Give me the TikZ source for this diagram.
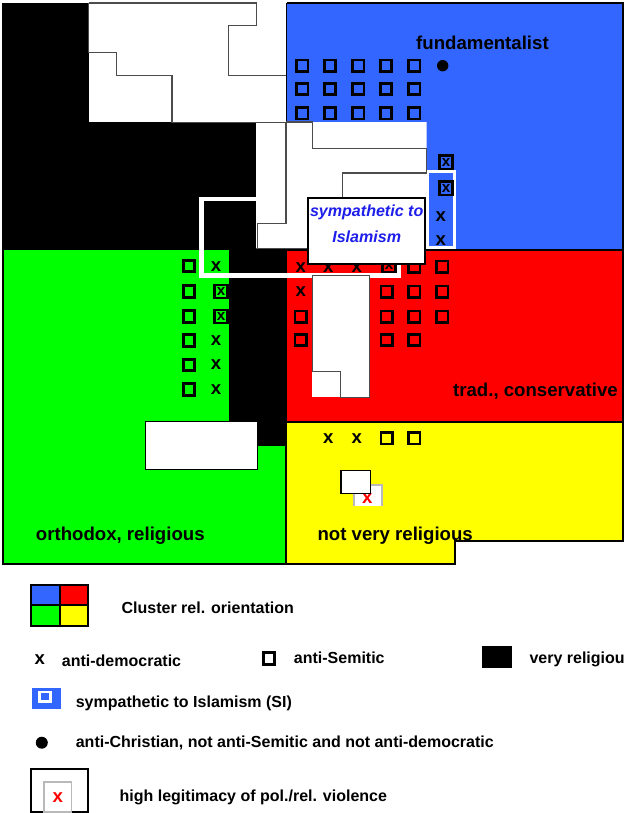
\documentclass[tikz,border=0pt]{standalone}
\usepackage{fontspec}
\setmainfont{Liberation Sans}
\usetikzlibrary{calc}

\definecolor{clblue}{RGB}{51,102,255}
\definecolor{clred}{RGB}{255,0,0}
\definecolor{clgreen}{RGB}{0,255,0}
\definecolor{clyellow}{RGB}{255,255,0}
\definecolor{sitext}{RGB}{30,30,235}

\begin{document}
\begin{tikzpicture}[x=0.03cm,y=-0.03cm,font=\fontsize{15.9}{18}\selectfont\bfseries,
  lab/.style={inner sep=0pt,anchor=base west},
  leg/.style={lab,font=\fontsize{13.66}{16}\selectfont\bfseries},
  sitxt/.style={inner sep=0pt,anchor=base,text=sitext,font=\fontsize{13.7}{16}\selectfont\bfseries\itshape},
  sq/.style={draw,line width=2.3pt,minimum size=9.7pt,inner sep=0pt},
  bx/.style={draw,line width=2.2pt,minimum size=11.2pt,inner sep=0pt,font=\fontsize{13}{13}\selectfont\bfseries},
  xm/.style={inner sep=0pt},
  seam/.style={draw=black!70,line width=1.2pt},
  wframe/.style={draw=white,line width=3.8pt},
  border/.style={line width=1.7pt}]
  \useasboundingbox (0,0) rectangle (624,813);
  \fill[clblue] (287,3) rectangle (623,250);
  \fill[clred] (287,250) rectangle (623,421.5);
  \fill[clyellow] (287,421.5) -- (623,421.5) -- (623,541) -- (455,541) -- (455,563.5) -- (287,563.5) -- cycle;
  \fill[clgreen] (3,250) rectangle (287,563.5);
  \fill[black] (3,3) rectangle (287,250);
  \fill[black] (229,250) rectangle (287,446);
  \draw[wframe] (201.7,199) rectangle (398.3,275.5);
  \draw[wframe,line width=3pt] (427,171.7) rectangle (454.7,248);
  \fill[white] (88.5,3) rectangle (286,122);
  \fill[white] (256,122) -- (426.7,122) -- (426.7,199) -- (308.3,199) -- (308.3,248.3) -- (256,248.3) -- cycle;
  \draw[seam] (88.7,3) -- (256.7,3) -- (256.7,25.7) -- (228.3,25.7) -- (228.3,75.3) -- (286,75.3);
  \draw[seam] (88.7,3) -- (88.7,52.3) -- (116.7,52.3) -- (116.7,75.3) -- (172,75.3) -- (172,122.3) -- (286,122.3);
  \draw[seam] (286,122) -- (286,223.3) -- (257.3,223.3) -- (257.3,248.3) -- (308.3,248.3);
  \draw[seam] (286,122) -- (312.7,122) -- (312.7,148.3) -- (426.7,148.3) -- (426.7,173) -- (342.3,173) -- (342.3,199);
  \draw[border] (287,3) -- (623,3) -- (623,541) -- (455,541) -- (455,563.5) -- (3,563.5) -- (3,3);
  \draw[border] (287,250) -- (623,250);
  \draw[border] (287,421.5) -- (623,421.5);
  \draw[border] (286,446) -- (286,563.5);

  \foreach \y [count=\r] in {65.7,89,113.3}
    \foreach \x [count=\c] in {302.3,330,358.3,386,414.3}
      \node[sq] (b\r\c) at (\x,\y) {};
  \fill (442.7,65.7) circle (5.7);
  \node[bx] (bb1) at (446,162.3) {x};
  \node[bx] (bb2) at (446,188.3) {x};
  \node[xm] (bx1) at (440.7,216.7) {x};
  \node[xm] (bx2) at (440.7,240.7) {x};

  \foreach \y [count=\r] in {266,291.5,316.5,340.5,365,389.5}
    \node[sq] (g\r) at (189,\y) {};
  \foreach \y [count=\r] in {267,340.5,365,389.5}
    \node[xm] (gx\r) at (216,\y) {x};
  \node[bx] (gb1) at (221,291.5) {x};
  \node[bx] (gb2) at (221,316.5) {x};

  \foreach \x [count=\c] in {300.7,328.3,356.7}
    \node[xm] (rx\c) at (\x,267.5) {x};
  \node[bx] (rb1) at (389,265.5) {x};
  \node[xm] (rx4) at (300.7,291.7) {x};
  \node[sq] (rh) at (363,291.7) {};
  \foreach \y [count=\r] in {266.7,291.7,316.7}
    \foreach \x [count=\c] in {414.3,442.3}
      \node[sq] (r\r\c) at (\x,\y) {};
  \foreach \y [count=\r] in {291.7,316.7,340}
    \node[sq] (rm\r) at (386.7,\y) {};
  \node[sq] (rl1) at (300.7,316.7) {};
  \node[sq] (rl2) at (300.7,340) {};
  \node[sq] (rl3) at (414.3,340) {};

  \node[xm] (yx1) at (328.3,438.3) {x};
  \node[xm] (yx2) at (356.7,438.3) {x};
  \node[sq] (ys1) at (386.7,438.3) {};
  \node[sq] (ys2) at (414.3,438.3) {};

  \fill[white] (312.3,275.7) rectangle (369.3,397.3);
  \draw[seam] (312.3,371.7) -- (312.3,275.7) -- (369.3,275.7) -- (369.3,397.3) -- (340.7,397.3) -- (340.7,371.7) -- cycle;
  \draw[line width=1.7pt,fill=white] (308.3,198.3) rectangle (425,264);
  \node[sitxt] (si1) at (366.7,216) {sympathetic to};
  \node[sitxt] (si2) at (366.7,242.7) {Islamism};
  \draw[line width=1.2pt,fill=white] (145.3,421.7) rectangle (257.7,469.7);
  \draw[gray!55,line width=1.5pt,fill=white] (354,506) -- (354,485) -- (381.7,485) -- (381.7,506);
  \node[xm,text=red] (yv) at (367.3,498.3) {x};
  \draw[line width=1.2pt,fill=white] (341,470.7) rectangle (370.7,493.3);

  \node[lab] (fund) at (416,49) {fundamentalist};
  \node[lab,anchor=base east] (trad) at (618,396.7) {trad., conservative};
  \node[lab] (orth) at (35.7,540) {orthodox, religious};
  \node[lab] (notrel) at (317.3,540) {not very religious};

  \fill[clblue] (31,584.7) rectangle (59.7,604.7);
  \fill[clred] (59.7,584.7) rectangle (88.3,604.7);
  \fill[clgreen] (31,604.7) rectangle (59.7,626);
  \fill[clyellow] (59.7,604.7) rectangle (88.3,626);
  \draw[border] (31,584.7) rectangle (88.3,626) (59.7,584.7) -- (59.7,626) (31,604.7) -- (88.3,604.7);
  \node[leg] (lclust) at (121.4,613) {Cluster rel. orientation};
  \node[xm] (lx) at (39.8,659.3) {x};
  \node[leg] (ldem) at (61.7,666) {anti-democratic};
  \node[sq] (lsq) at (269,658.5) {};
  \node[leg] (lsem) at (293.7,663.3) {anti-Semitic};
  \fill (482.3,646) rectangle (511.7,667.7);
  \node[leg] (lrel) at (529.3,663.3) {very religious};
  \fill[clblue] (31.8,688) rectangle (60.5,708.7);
  \draw[white,line width=2.5pt] (39.4,692) rectangle (50.1,701.3);
  \node[leg] (lsi) at (75.6,707.3) {sympathetic to Islamism (SI)};
  \fill (41.8,742.7) circle (6);
  \node[leg] (lchr) at (75.6,747.7) {anti-Christian, not anti-Semitic and not anti-democratic};
  \draw[border] (31,769.3) rectangle (88.3,811.7);
  \draw[gray!55,line width=1.5pt,fill=white] (43.8,781.7) rectangle (71.6,811.7);
  \node[xm,text=red] (lv) at (57.7,797.7) {x};
  \node[leg] (lviol) at (119.4,801) {high legitimacy of pol./rel. violence};
\end{tikzpicture}
\end{document}
